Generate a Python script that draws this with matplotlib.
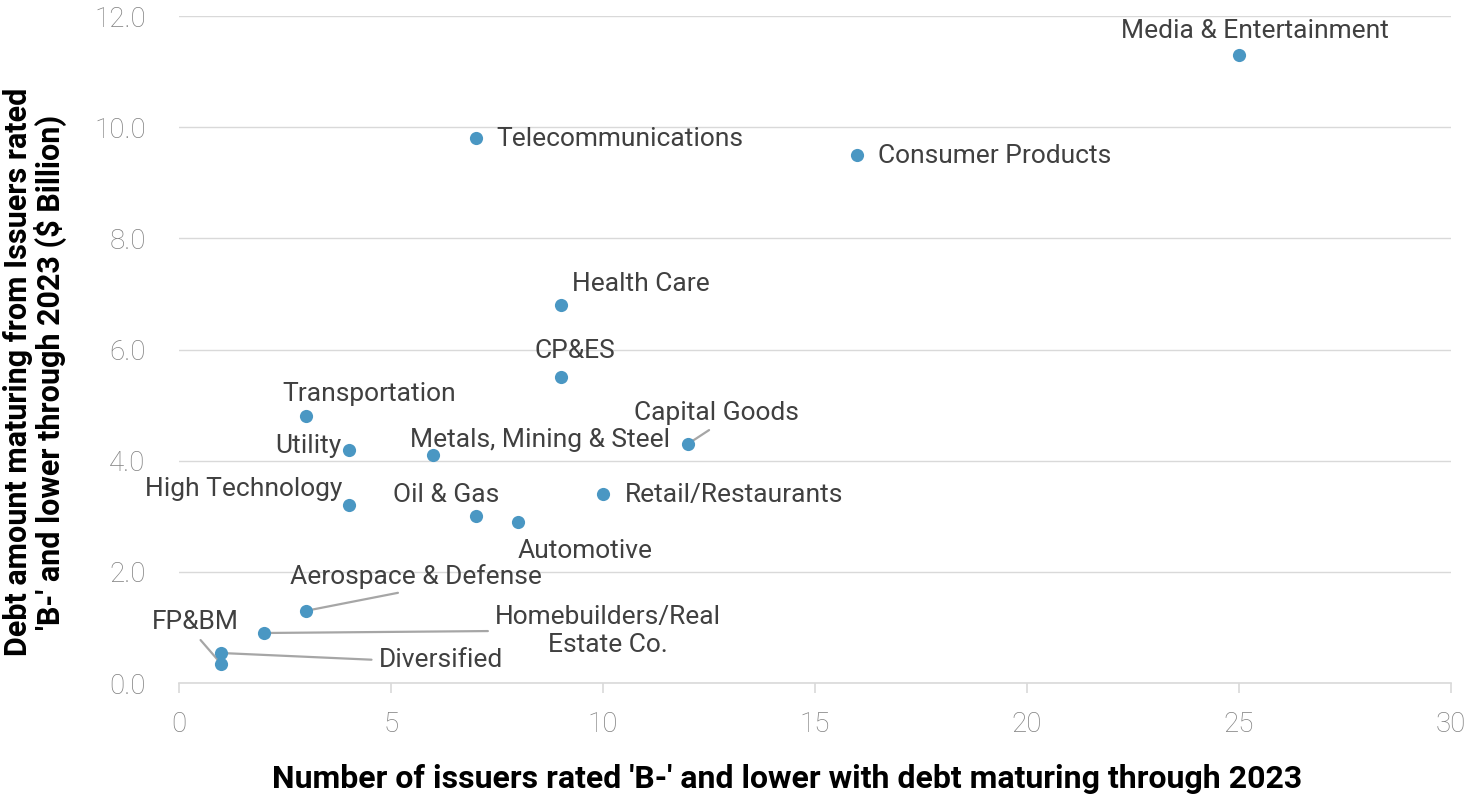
import matplotlib
matplotlib.use("Agg")
import matplotlib.pyplot as plt

# Sector data: number of issuers vs. debt maturing ($ Billion)
sectors = [
    "Media & Entertainment", "Telecommunications", "Consumer Products",
    "Health Care", "CP&ES", "Transportation", "Utility",
    "Metals, Mining & Steel", "Capital Goods", "High Technology",
    "Oil & Gas", "Automotive", "Retail/Restaurants",
    "Aerospace & Defense", "Homebuilders/Real\nEstate Co.", "FP&BM",
    "Diversified",
]
issuers = [25, 7, 16, 9, 9, 3, 4, 6, 12, 4, 7, 8, 10, 3, 2, 1, 1]
debt = [11.3, 9.8, 9.5, 6.8, 5.5, 4.8, 4.2, 4.1, 4.3, 3.2, 3.0, 2.9, 3.4,
        1.3, 0.9, 0.34, 0.54]

x_ticks = [0, 5, 10, 15, 20, 25, 30]
y_ticks = [0, 2, 4, 6, 8, 10, 12]

# label placement: (dx, dy) in pixels, horizontal alignment, leader relpos
label_style = {
    "Media & Entertainment": ((16, 24), "center", None),
    "Telecommunications": ((21, -1), "left", None),
    "Consumer Products": ((21, -1), "left", None),
    "Health Care": ((11, 21), "left", None),
    "CP&ES": ((14, 26), "center", None),
    "Transportation": ((63, 22), "center", None),
    "Utility": ((-7, 4), "right", None),
    "Metals, Mining & Steel": ((107, 15), "center", None),
    "Capital Goods": ((29, 31), "center", (0.5, 0.0)),
    "High Technology": ((-6, 16), "right", None),
    "Oil & Gas": ((-30, 21), "center", None),
    "Automotive": ((67, -29), "center", None),
    "Retail/Restaurants": ((22, -1), "left", None),
    "Aerospace & Defense": ((110, 34), "center", (0.5, 0.0)),
    "Homebuilders/Real\nEstate Co.": ((344, 2), "center", (0.0, 0.5)),
    "FP&BM": ((-26, 42), "center", (0.5, 0.0)),
    "Diversified": ((157, -7), "left", (0.0, 0.5)),
}

plt.rcParams["font.family"] = ["Roboto", "DejaVu Sans"]

fig = plt.figure(figsize=(14.76, 7.97), dpi=100)
ax = fig.add_axes([0.1213, 0.1430, 0.8617, 0.8369])

ax.scatter(issuers, debt, s=90, color="#4a97c3", zorder=3, linewidths=0)

for name, xv, yv in zip(sectors, issuers, debt):
    (dx, dy), ha, relpos = label_style[name]
    kw = {}
    if relpos is not None:
        kw["arrowprops"] = dict(arrowstyle="-", color="#a6a6a6", lw=1.6,
                                relpos=relpos, shrinkA=3, shrinkB=0)
    ax.annotate(name, (xv, yv), xytext=(dx, dy), textcoords="offset pixels",
                ha=ha, va="center", fontsize=19, color="#404040",
                multialignment="center", linespacing=1.2, zorder=2, **kw)

ax.set_xlim(0, 30)
ax.set_ylim(0, 12)
ax.set_xticks(x_ticks)
ax.set_yticks(y_ticks)
ax.set_yticklabels([f"{v:.1f}" for v in y_ticks])
ax.grid(axis="y", color="#d9d9d9", lw=1.0, zorder=0)
ax.set_axisbelow(True)
for side in ("top", "right", "left"):
    ax.spines[side].set_visible(False)
ax.spines["bottom"].set_color("#d9d9d9")
ax.spines["bottom"].set_linewidth(1.2)
ax.tick_params(axis="x", length=7, color="#d9d9d9", width=1.2, pad=13,
               labelsize=20, labelcolor="#7f7f7f")
ax.tick_params(axis="y", length=0, pad=24, labelsize=20, labelcolor="#7f7f7f")
for lab in ax.get_xticklabels() + ax.get_yticklabels():
    lab.set_fontweight("light")

fig.text(0.5332, 1 - 779 / 797,
         "Number of issuers rated 'B-' and lower with debt maturing through 2023",
         ha="center", va="center", fontsize=23, fontweight="bold", color="#000000")
fig.text(35 / 1476, 1 - 372 / 797,
         "Debt amount maturing from Issuers rated\n'B-' and lower through 2023 ($ Billion)",
         ha="center", va="center", rotation=90, fontsize=22, fontweight="bold",
         color="#000000", multialignment="center", linespacing=1.05)

fig.savefig("out.png", dpi=100)
